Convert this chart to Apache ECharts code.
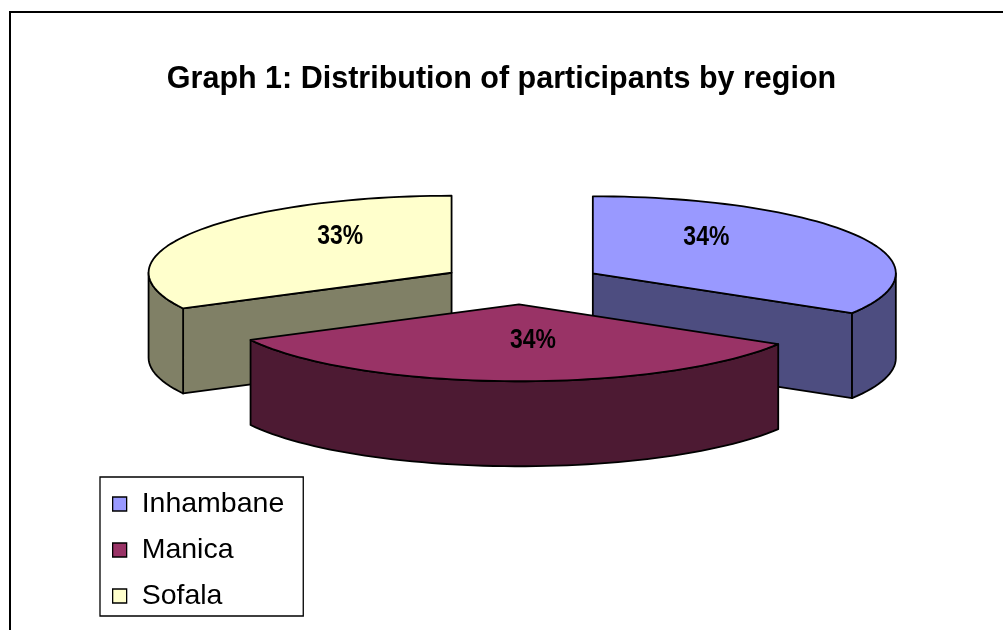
<!DOCTYPE html>
<html>
<head>
<meta charset="utf-8">
<script src="https://cdn.jsdelivr.net/npm/echarts@6/dist/echarts.min.js"></script>
<style>
html,body{margin:0;padding:0;background:#fff;}
#chart{width:1003px;height:630px;}
</style>
</head>
<body>
<div id="chart"></div>
<script>
// ---- data ----
const categories = ['Inhambane', 'Manica', 'Sofala'];
const values = [34, 34, 33];
const topColors = ['#9999FF', '#993366', '#FFFFCC'];
const sideColors = ['#4D4D80', '#4D1A33', '#808066'];
const titleText = 'Graph 1: Distribution of participants by region';

// ---- geometry of the 3D pie (styles only) ----
const PIE = { cxFrac: 0.52, cyFrac: 0.45, a: 303, b: 77, depth: 85, explode: 0.27 };
const total = values.reduce((s, v) => s + v, 0);

function sliceAngles(i) {
  let before = 0;
  for (let k = 0; k < i; k++) before += values[k];
  const start = before / total * Math.PI * 2;
  const end = (before + values[i]) / total * Math.PI * 2;
  return { start, end, mid: (start + end) / 2 };
}

function renderSlice(params, api) {
  const v = api.value(0);
  const i = api.value(1);
  const W = api.getWidth(), H = api.getHeight();
  const cx = W * PIE.cxFrac, cy = H * PIE.cyFrac;
  const a = PIE.a, b = PIE.b, d = PIE.depth;
  const ang = sliceAngles(i);
  const sx = cx + PIE.explode * a * Math.sin(ang.mid);
  const sy = cy - PIE.explode * b * Math.cos(ang.mid);
  const P = (t, dz) => [sx + a * Math.sin(t), sy - b * Math.cos(t) + (dz || 0)];
  const arcPts = (t0, t1, dz) => {
    const n = Math.max(2, Math.ceil((t1 - t0) / (Math.PI / 90)));
    const pts = [];
    for (let k = 0; k <= n; k++) pts.push(P(t0 + (t1 - t0) * k / n, dz));
    return pts;
  };
  const stroke = { stroke: '#000', lineWidth: 1.8, lineJoin: 'round' };
  const children = [];
  // radial wall at start
  if (Math.sin(ang.start) < -1e-6) {
    const p = P(ang.start);
    children.push({ type: 'polygon', shape: { points: [[sx, sy], p, [p[0], p[1] + d], [sx, sy + d]] },
      style: Object.assign({ fill: sideColors[i] }, stroke) });
  }
  // radial wall at end
  if (Math.sin(ang.end) > 1e-6) {
    const p = P(ang.end);
    children.push({ type: 'polygon', shape: { points: [[sx, sy], p, [p[0], p[1] + d], [sx, sy + d]] },
      style: Object.assign({ fill: sideColors[i] }, stroke) });
  }
  // outer curved wall, front half only
  const t0 = Math.max(ang.start, Math.PI / 2), t1 = Math.min(ang.end, Math.PI * 1.5);
  if (t1 > t0) {
    const topArc = arcPts(t0, t1, 0);
    const botArc = arcPts(t0, t1, d).reverse();
    children.push({ type: 'polygon', shape: { points: topArc.concat(botArc) },
      style: Object.assign({ fill: sideColors[i] }, stroke) });
  }
  // top face
  children.push({ type: 'polygon', shape: { points: [[sx, sy]].concat(arcPts(ang.start, ang.end, 0)) },
    style: Object.assign({ fill: topColors[i] }, stroke) });
  // percentage label
  const pct = Math.round(v / total * 100) + '%';
  const lx = sx + 0.43 * a * Math.sin(ang.mid) + 18 * Math.max(0, -Math.cos(ang.mid));
  const ly = sy - 0.47 * b * Math.sign(Math.cos(ang.mid));
  children.push({ type: 'text', x: lx, y: ly, scaleX: 0.85,
    style: { text: pct, x: 0, y: 0, align: 'center', verticalAlign: 'middle',
      font: 'bold 27px "Liberation Sans", Arial, sans-serif', fill: '#000' } });
  return { type: 'group', children };
}

const series = categories.map((name, i) => {
  const ang = sliceAngles(i);
  return {
    type: 'custom', name, coordinateSystem: 'none',
    z: 2 + (1 - Math.cos(ang.mid)),
    itemStyle: { color: topColors[i] },
    data: [[values[i], i]],
    renderItem: renderSlice,
    silent: true
  };
});

const chart = echarts.init(document.getElementById('chart'), null, { renderer: 'canvas' });
chart.setOption({
  animation: false,
  backgroundColor: '#fff',
  title: {
    text: titleText, left: 'center', top: 64, padding: 0,
    textStyle: { fontFamily: '"Liberation Sans", Arial, sans-serif', fontWeight: 'bold', fontSize: 30.5, color: '#000' }
  },
  legend: {
    orient: 'vertical', left: 100, top: 477,
    data: categories, icon: 'rect', itemWidth: 14, itemHeight: 14, itemGap: 16,
    padding: [12, 19, 5, 12],
    borderColor: '#000', borderWidth: 1.3, backgroundColor: '#fff',
    itemStyle: { borderColor: '#000', borderWidth: 1.3 },
    selectedMode: false,
    textStyle: { fontFamily: '"Liberation Sans", Arial, sans-serif', fontSize: 28.5, color: '#000', lineHeight: 30, padding: [0, 0, 0, 10] }
  },
  graphic: [{
    type: 'rect', silent: true, z: 0,
    shape: { x: 10, y: 12, width: 1100, height: 700 },
    style: { fill: 'none', stroke: '#000', lineWidth: 2 }
  }],
  series
});
</script>
</body>
</html>
